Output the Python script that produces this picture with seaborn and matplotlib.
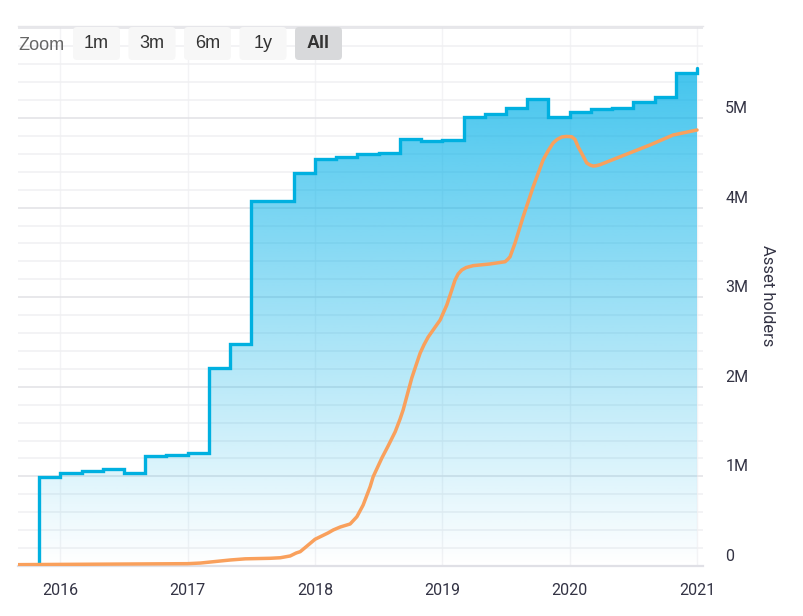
import numpy as np
import pandas as pd
import matplotlib.pyplot as plt
import seaborn as sns
from matplotlib.patches import FancyBboxPatch
from matplotlib.transforms import ScaledTranslation

# Asset holders (millions), bi-monthly steps
step_years = [2015.67, 2015.833, 2016.0, 2016.167, 2016.333, 2016.5, 2016.667, 2016.833,
              2017.0, 2017.167, 2017.333, 2017.5, 2017.833, 2018.0, 2018.167, 2018.333,
              2018.5, 2018.667, 2018.833, 2019.0, 2019.167, 2019.333, 2019.5, 2019.667,
              2019.833, 2020.0, 2020.167, 2020.333, 2020.5, 2020.667, 2020.833, 2021.0]
step_values = [0, 0.997, 1.038, 1.057, 1.079, 1.035, 1.228, 1.242,
               1.258, 2.21, 2.478, 4.074, 4.39, 4.539, 4.568, 4.602,
               4.606, 4.766, 4.743, 4.754, 5.011, 5.05, 5.106, 5.212,
               5.011, 5.07, 5.097, 5.112, 5.175, 5.238, 5.502, 5.558]

# Orange curve
curve_years = [2015.67, 2016.0, 2016.5, 2017.0, 2017.1, 2017.217, 2017.334, 2017.452,
               2017.648, 2017.727, 2017.805, 2017.852, 2017.884, 2017.923, 2018.0, 2018.104,
               2018.143, 2018.198, 2018.237, 2018.276, 2018.329, 2018.378, 2018.433, 2018.457,
               2018.525, 2018.574, 2018.63, 2018.668, 2018.692, 2018.76, 2018.794, 2018.826,
               2018.857, 2018.889, 2018.936, 2018.983, 2019.035, 2019.069, 2019.1, 2019.124,
               2019.153, 2019.187, 2019.242, 2019.375, 2019.493, 2019.516, 2019.532, 2019.571,
               2019.634, 2019.713, 2019.791, 2019.83, 2019.87, 2019.901, 2019.938, 2019.972,
               2020.016, 2020.042, 2020.066, 2020.097, 2020.134, 2020.16, 2020.184, 2020.207,
               2020.239, 2020.372, 2020.631, 2020.812, 2021.0]
curve_values = [0.015, 0.018, 0.022, 0.026, 0.033, 0.05, 0.067, 0.08,
                0.086, 0.092, 0.112, 0.145, 0.16, 0.206, 0.298, 0.37,
                0.402, 0.435, 0.452, 0.469, 0.55, 0.68, 0.885, 0.997,
                1.205, 1.339, 1.499, 1.64, 1.741, 2.098, 2.243, 2.377,
                2.472, 2.556, 2.651, 2.746, 2.913, 3.058, 3.192, 3.259,
                3.304, 3.331, 3.352, 3.371, 3.396, 3.426, 3.452, 3.605,
                3.895, 4.23, 4.531, 4.632, 4.721, 4.76, 4.788, 4.794,
                4.791, 4.76, 4.68, 4.598, 4.498, 4.475, 4.464, 4.467,
                4.479, 4.554, 4.699, 4.81, 4.866]

year_ticks = [2016, 2017, 2018, 2019, 2020, 2021]
major_ticks = [0, 1, 2, 3, 4, 5, 6]
major_labels = ['0', '1M', '2M', '3M', '4M', '5M', '']
minor_ticks = [v / 5 for v in range(31) if v % 5 != 0]
zoom_buttons = ['1m', '3m', '6m', '1y', 'All']

W, H = 804, 616
BLUE = '#00b0e0'
ORANGE = '#f9a05c'

sns.set_style('white')
plt.rcParams['font.family'] = ['Roboto', 'DejaVu Sans']
plt.rcParams['ytick.alignment'] = 'bottom'

fig = plt.figure(figsize=(W / 100, H / 100), dpi=100)
ax = fig.add_axes([18.3 / W, 1 - 566 / H, (703 - 18.3) / W, (566 - 25.7) / H])

steps = pd.DataFrame({'year': step_years, 'holders': step_values})
curve = pd.DataFrame({'year': curve_years, 'holders': curve_values})

# gradient fill under the step line, clipped to the step shape
poly = ax.fill_between(step_years, step_values, step='post', color='none', linewidth=0)
gradient = np.zeros((256, 1, 4))
gradient[..., 0] = 0 / 255
gradient[..., 1] = 176 / 255
gradient[..., 2] = 232 / 255
gradient[..., 3] = np.linspace(0.74, 0, 256)[:, None]
img = ax.imshow(gradient, extent=[2015.67, 2021.0, 0, max(step_values)], aspect='auto',
                origin='upper', zorder=2, interpolation='bilinear')
img.set_clip_path(poly.get_paths()[0], transform=ax.transData)

sns.lineplot(data=steps, x='year', y='holders', drawstyle='steps-post', color=BLUE,
             linewidth=2.4, errorbar=None, ax=ax, zorder=3, solid_joinstyle='miter')
sns.lineplot(data=curve, x='year', y='holders', color=ORANGE, linewidth=2.5,
             errorbar=None, ax=ax, zorder=4, solid_joinstyle='round')

ax.set_xlim(2015.67, 2021.047)
ax.set_ylim(0, 6.03)
ax.set_xticks(year_ticks)
ax.set_xticklabels([str(y) for y in year_ticks])
ax.yaxis.tick_right()
ax.set_yticks(major_ticks)
ax.set_yticklabels(major_labels)
ax.set_yticks(minor_ticks, minor=True)
ax.tick_params(axis='x', length=0, pad=12, labelsize=11.5, labelcolor='#333344')
ax.tick_params(axis='y', which='major', length=0, pad=16, labelsize=11.5, labelcolor='#333344')
ax.tick_params(axis='y', which='minor', length=0)

# y labels sit a little higher above their grid lines
for lab in ax.get_yticklabels():
    lab.set_transform(lab.get_transform() + ScaledTranslation(0, 2 / 100, fig.dpi_scale_trans))

ax.grid(False)
ax.set_axisbelow(True)
ax.grid(axis='x', which='major', color='#f3f3f5', linewidth=1)
ax.grid(axis='y', which='major', color='#e2e2e6', linewidth=1.1)
ax.grid(axis='y', which='minor', color='#f0f0f2', linewidth=1.1)
for name in ['left', 'right']:
    ax.spines[name].set_visible(False)
ax.spines['top'].set_color('#e6e6ea')
ax.spines['top'].set_linewidth(1.0)
ax.spines['bottom'].set_color('#e0e0e6')
ax.spines['bottom'].set_linewidth(1.6)

ax.set_xlabel('')
ax.set_ylabel('')
fig.text(768 / W, 1 - 296 / H, 'Asset holders', rotation=-90, ha='center', va='center',
         fontsize=12, color='#333344')

# range selector
fig.text(18.3 / W, 1 - 49.5 / H, 'Zoom', ha='left', va='baseline', fontsize=13,
         color='#666666', family='Liberation Sans')
for i, label in enumerate(zoom_buttons):
    left = 73 + i * 55.5
    active = label == 'All'
    box = FancyBboxPatch((left + 3, H - 60 + 3), 47 - 6, 33 - 6,
                         boxstyle='round,pad=3,rounding_size=4',
                         transform=None, linewidth=0, zorder=5,
                         facecolor='#d8d9db' if active else '#f7f7f7')
    fig.add_artist(box)
    fig.text((left + 23.5) / W, 1 - 47.5 / H, label, ha='center', va='baseline', fontsize=13,
             color='#333333', family='Liberation Sans',
             fontweight='bold' if active else 'normal', zorder=6)

plt.savefig('out.png', dpi=100)
